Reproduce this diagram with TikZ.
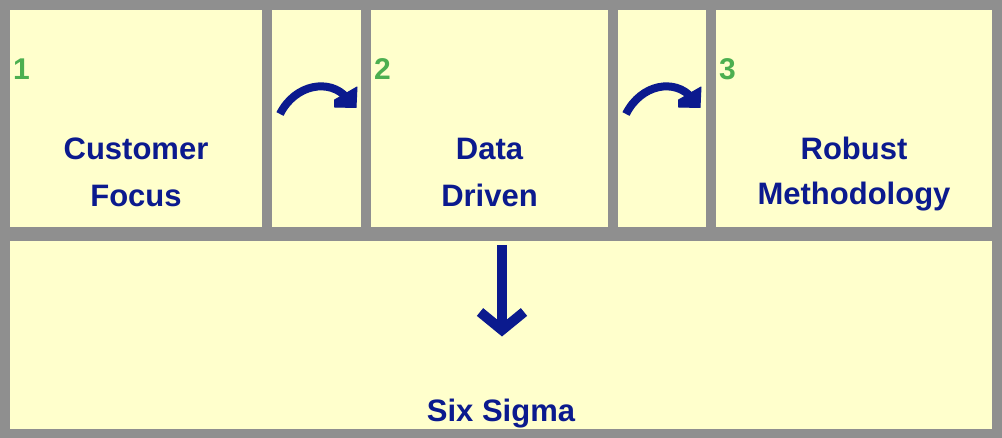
\documentclass[tikz,border=0pt]{standalone}
\usepackage{fontspec}
\setmainfont{Liberation Sans}
\definecolor{bggray}{HTML}{8F8F8F}
\definecolor{boxfill}{HTML}{FFFFCC}
\definecolor{navy}{HTML}{0B1A8E}
\definecolor{numgreen}{HTML}{4CAF50}
\begin{document}
\begin{tikzpicture}[x=1pt,y=-1pt,
  panel/.style={fill=boxfill, draw=none, inner sep=0pt, outer sep=0pt},
  lbl/.style={text=navy, font=\fontsize{31}{36}\selectfont\bfseries, inner sep=0pt, anchor=base},
  num/.style={text=numgreen, font=\fontsize{30}{36}\selectfont\bfseries, inner sep=0pt, anchor=base west},
  flow/.style={draw=navy, line width=8pt},
  flowhead/.style={fill=navy, draw=navy, line width=1pt, line join=round},
  downflow/.style={draw=navy, line width=10.5pt},
  downhead/.style={draw=navy, line width=10pt, line join=miter, line cap=butt}]
\useasboundingbox (0,0) rectangle (1002,438);
\fill[bggray] (0,0) rectangle (1002,438);
% panels
\node[panel, minimum width=252pt, minimum height=217pt] (b1) at (136,118.5) {};
\node[panel, minimum width=89pt, minimum height=217pt] (a1) at (316.5,118.5) {};
\node[panel, minimum width=237pt, minimum height=217pt] (b2) at (489.5,118.5) {};
\node[panel, minimum width=88pt, minimum height=217pt] (a2) at (662,118.5) {};
\node[panel, minimum width=276pt, minimum height=217pt] (b3) at (854,118.5) {};
\node[panel, minimum width=982pt, minimum height=188pt] (b4) at (501,335) {};
% numbers
\node[num] (n1) at (13,80) {1};
\node[num] (n2) at (374,80) {2};
\node[num] (n3) at (719,80) {3};
% labels
\node[lbl] (l1a) at (136,160) {Customer};
\node[lbl] (l1b) at (136,207) {Focus};
\node[lbl] (l2a) at (489.5,160) {Data};
\node[lbl] (l2b) at (489.5,207) {Driven};
\node[lbl] (l3a) at (854,160) {Robust};
\node[lbl] (l3b) at (854,205) {Methodology};
\node[lbl] (l4) at (501,421) {Six Sigma};
% curved arrows
\coordinate (s1) at (280,114);
\coordinate (e1) at (347,98);
\draw[flow] (s1) .. controls (295,84) and (330,78) .. (e1);
\fill[flowhead] (357,87) -- (356,107.5) -- (334.5,107) -- (334.5,100) -- cycle;
\coordinate (s2) at (626,114);
\coordinate (e2) at (692,98);
\draw[flow] (s2) .. controls (641,84) and (675,78) .. (e2);
\fill[flowhead] (701,87) -- (700,107.5) -- (678.5,107) -- (678.5,100) -- cycle;
% down arrow
\coordinate (ds) at (502,245);
\coordinate (de) at (502,328);
\draw[downflow] (ds) -- (de);
\draw[downhead] (480,312) -- (502,330) -- (524,312);
\end{tikzpicture}
\end{document}
